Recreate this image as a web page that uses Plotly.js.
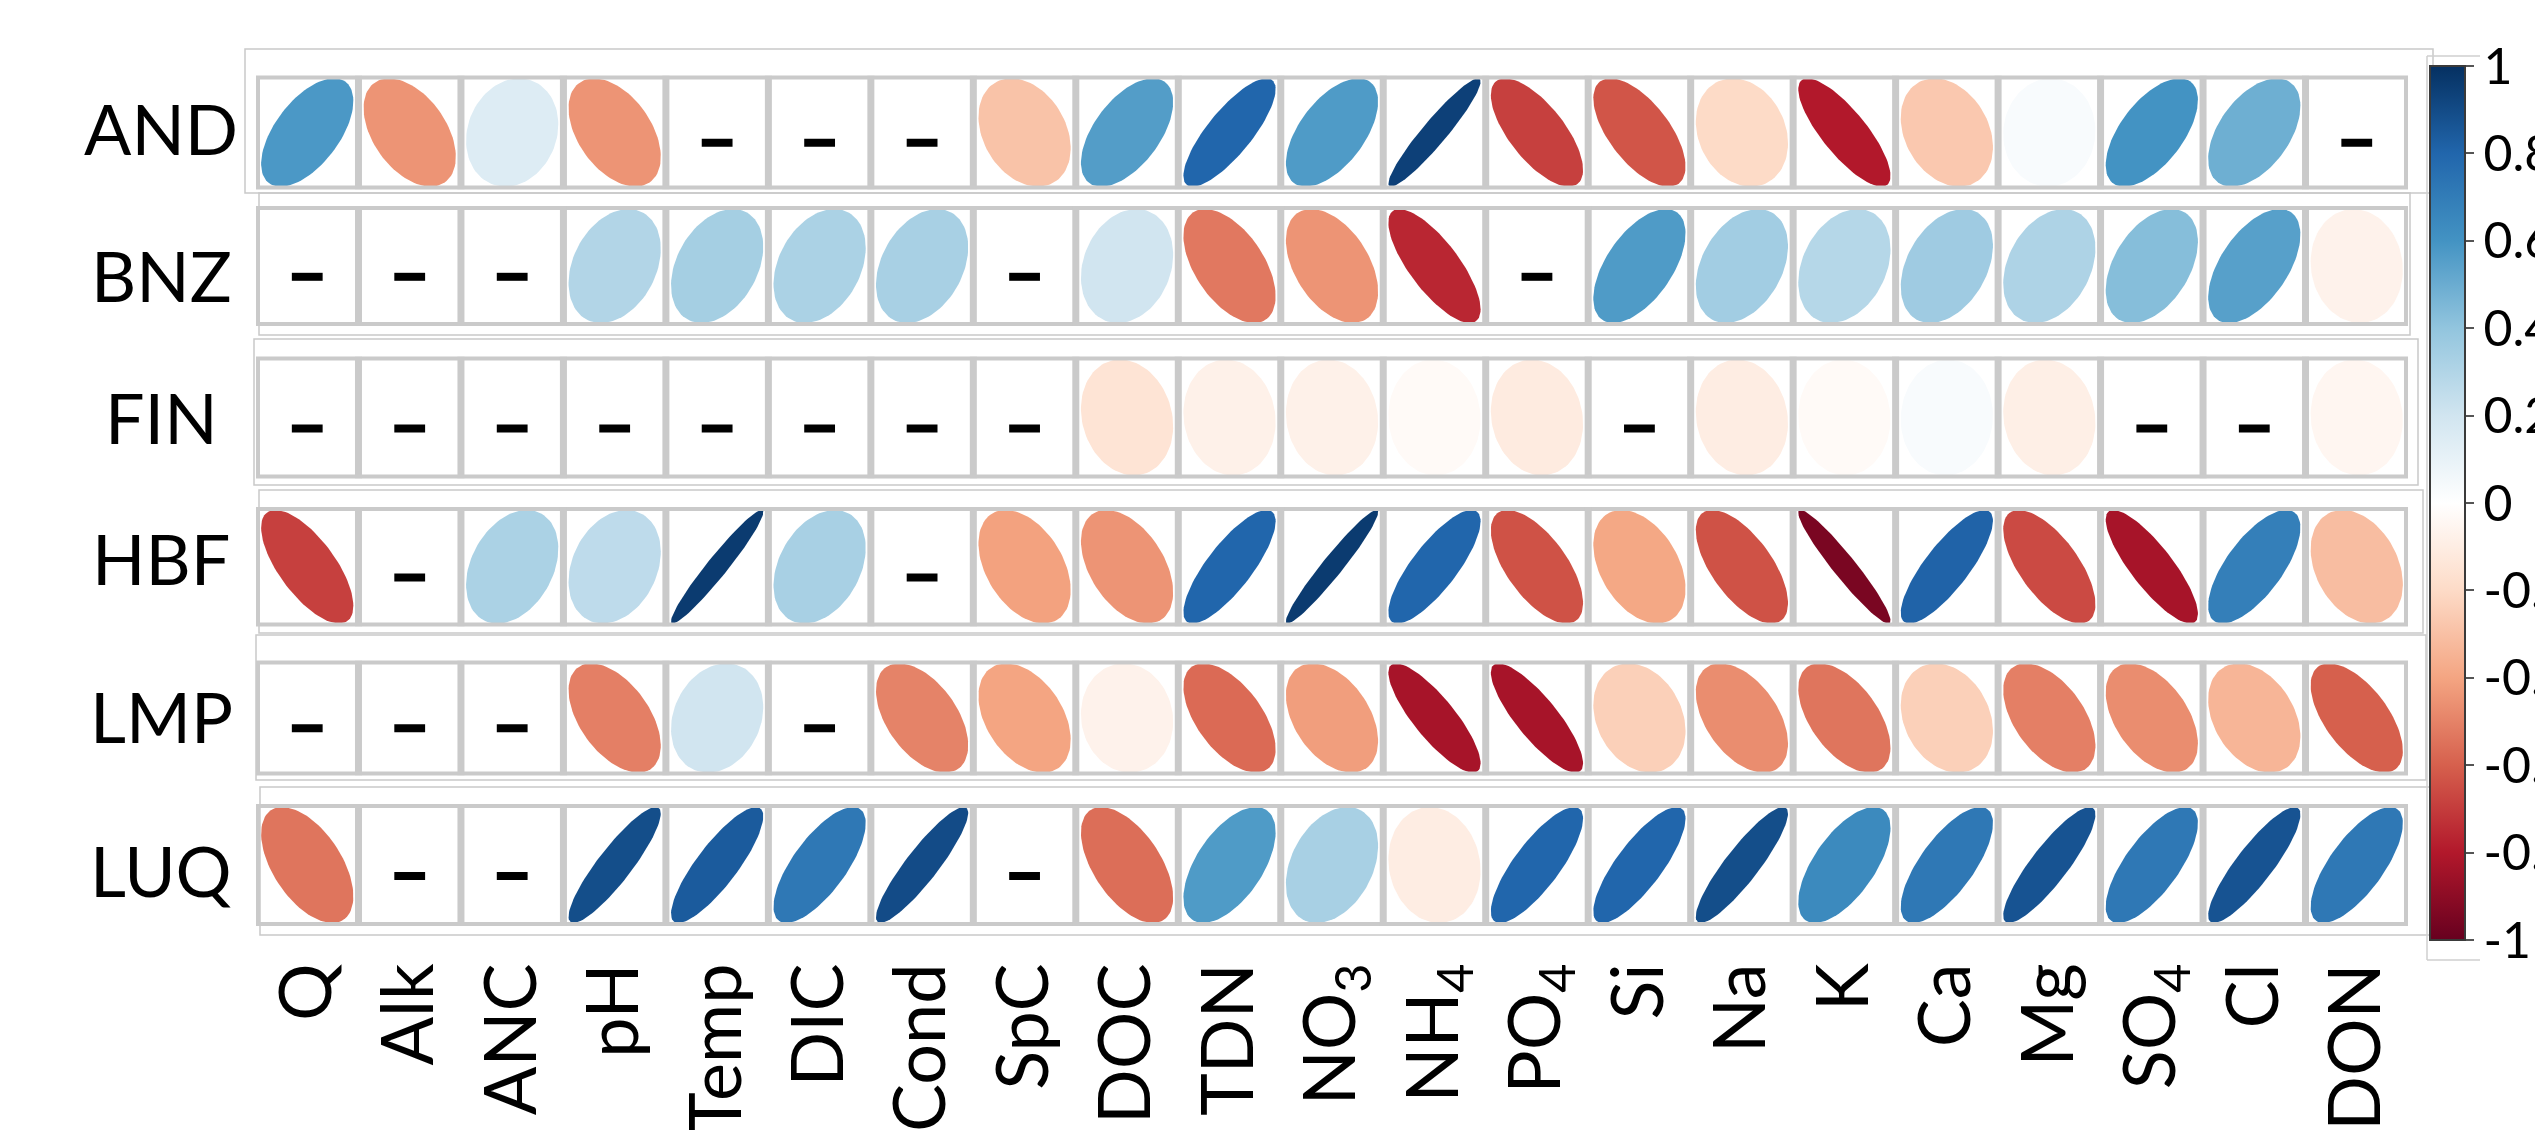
<!DOCTYPE html>
<html><head><meta charset="utf-8">
<script src="https://cdn.plot.ly/plotly-3.0.1.min.js"></script>
<style>html,body{margin:0;padding:0;background:#fff;} #chart{width:2535px;height:1130px;}</style>
</head><body><div id="chart"></div>
<script>
// ---------- data ----------
const variables = ['Q','Alk','ANC','pH','Temp','DIC','Cond','SpC','DOC','TDN','NO<sub>3</sub>','NH<sub>4</sub>','PO<sub>4</sub>','Si','Na','K','Ca','Mg','SO<sub>4</sub>','Cl','DON'];
const sites = ['AND','BNZ','FIN','HBF','LMP','LUQ'];
const AND = [0.58,-0.45,0.15,-0.45,null,null,null,-0.29,0.56,0.80,0.57,0.94,-0.69,-0.63,-0.20,-0.80,-0.27,0.03,0.60,0.49,null];
const BNZ = [null,null,null,0.30,0.34,0.32,0.33,null,0.20,-0.53,-0.45,-0.76,null,0.57,0.35,0.29,0.36,0.31,0.43,0.55,-0.07];
const FIN = [null,null,null,null,null,null,null,null,-0.15,-0.08,-0.08,-0.03,-0.11,null,-0.10,-0.03,0.03,-0.09,null,null,-0.05];
const HBF = [-0.69,null,0.32,0.26,0.96,0.33,null,-0.41,-0.45,0.80,0.96,0.80,-0.64,-0.39,-0.64,-0.95,0.81,-0.66,-0.83,0.69,-0.31];
const LMP = [null,null,null,-0.51,0.20,null,-0.50,-0.40,-0.07,-0.57,-0.42,-0.83,-0.83,-0.24,-0.47,-0.54,-0.24,-0.51,-0.47,-0.34,-0.60];
const LUQ = [-0.54,null,null,0.89,0.84,0.72,0.90,null,-0.56,0.57,0.33,-0.10,0.80,0.80,0.89,0.64,0.72,0.87,0.72,0.87,0.72];
const siteValues = [AND, BNZ, FIN, HBF, LMP, LUQ];
const colorbarTicks = [1,0.8,0.6,0.4,0.2,0,-0.2,-0.4,-0.6,-0.8,-1];

// ---------- style ----------
const W = 2535, H = 1130;
const px = v => v / W, py = v => 1 - v / H;
const FONT = 'Lato, "Open Sans", sans-serif';
const rdbu = ['#67001F','#B2182B','#D6604D','#F4A582','#FDDBC7','#FFFFFF','#D1E5F0','#92C5DE','#4393C3','#2166AC','#053061'];
const colorscale = rdbu.map((c,i) => [i/(rdbu.length-1), c]);
const gridX = [256, 2408];
const rowBox = [[75.5,189.5],[206,326],[356.5,478.5],[507,626.5],[660.5,775.5],[804,926]];
const frames = [[245,49,2433,193],[259,193,2410,335],[254,339,2418,485],[259,490,2423,633],[256,635,2426,780],[260,787,2430,935]];
const labelY = [128,275,417,558,716,870];
const ELL_X = 0.45, ELL_Y = 0.475;  // ellipse half-extent in cell units
const NA_DROP = 0.09;  // dash sits a little below cell centre
const GRID = '#cacaca';
const CBAR_X = 2430;

function hex2rgb(h){return [parseInt(h.slice(1,3),16),parseInt(h.slice(3,5),16),parseInt(h.slice(5,7),16)];}
function colorFor(r){
  const t = (r + 1) / 2 * (rdbu.length - 1);
  const i = Math.min(Math.floor(t), rdbu.length - 2), f = t - i;
  const a = hex2rgb(rdbu[i]), b = hex2rgb(rdbu[i+1]);
  const c = a.map((v,k) => Math.round(v + (b[k]-v)*f));
  return `rgb(${c[0]},${c[1]},${c[2]})`;
}

const traces = [];
const shapes = [];
const annotations = [];
const layout = {
  width: W, height: H, margin: {l:0, r:0, t:0, b:0, pad:0, autoexpand:false},
  paper_bgcolor: '#fff', plot_bgcolor: 'rgba(0,0,0,0)', showlegend: false,
  hovermode: false,
  xaxis: {
    domain: [px(gridX[0]), px(gridX[1])], range: [0.5, variables.length + 0.5],
    anchor: 'y6', tickmode: 'array', tickvals: variables.map((v,i) => i+1), ticktext: variables,
    tickangle: -90, ticks: '', showgrid: false, zeroline: false, showline: false, automargin: false,
    tickfont: {family: FONT, size: 72, color: '#000'}, ticklabelstandoff: 22, fixedrange: true
  },
  shapes, annotations
};

sites.forEach((site, s) => {
  const yname = s === 0 ? 'y' : 'y' + (s+1);
  const axname = s === 0 ? 'yaxis' : 'yaxis' + (s+1);
  layout[axname] = {domain: [py(rowBox[s][1]), py(rowBox[s][0])], range: [-0.5, 0.5], anchor: 'x',
    showticklabels: false, showgrid: false, zeroline: false, ticks: '', showline: false, fixedrange: true, automargin: false};
  const vals = siteValues[s];
  const naX = [];
  vals.forEach((r, c) => {
    const cx = c + 1;
    if (r === null) { naX.push(cx); return; }
    const d = Math.acos(r), xs = [], ys = [];
    for (let k = 0; k <= 98; k++) {
      const t = 2 * Math.PI * k / 98;
      xs.push(cx + ELL_X * Math.cos(t + d/2));
      ys.push(ELL_Y * Math.cos(t - d/2));
    }
    const col = colorFor(r);
    traces.push({type:'scatter', mode:'lines', x: xs, y: ys, xaxis:'x', yaxis: yname,
      fill:'toself', fillcolor: col, line:{width:0, color: col}, hoverinfo:'skip'});
  });
  if (naX.length) traces.push({type:'scatter', mode:'markers', x: naX, y: naX.map(() => -NA_DROP),
    xaxis:'x', yaxis: yname, hoverinfo:'skip',
    marker:{symbol:'line-ew', size:22, line:{width:8, color:'#000'}, color:'#000'}});
  // strip frame
  const f = frames[s];
  shapes.push({type:'rect', xref:'paper', yref:'paper', x0:px(f[0]), x1:px(f[2]), y0:py(f[3]), y1:py(f[1]),
    line:{color:'#c9c9c9', width:1.5}, layer:'below'});
  // grid
  shapes.push({type:'rect', xref:'x', yref:yname, x0:0.5, x1:variables.length+0.5, y0:-0.5, y1:0.5,
    line:{color:GRID, width:8}, layer:'above'});
  for (let k = 1; k < variables.length; k++) {
    shapes.push({type:'line', xref:'x', yref:yname, x0:k+0.5, x1:k+0.5, y0:-0.5, y1:0.5,
      line:{color:GRID, width:7}, layer:'above'});
  }
  annotations.push({xref:'paper', yref:'paper', x:px(161), y:py(labelY[s]), text: site, showarrow:false,
    xanchor:'center', yanchor:'middle', font:{family: FONT, size:70, color:'#000'}});
});

// colour bar frame
[[2427,56,2480,56],[2427,56,2427,960],[2427,960,2480,960]].forEach(l => shapes.push({type:'line', xref:'paper', yref:'paper',
  x0:px(l[0]), y0:py(l[1]), x1:px(l[2]), y1:py(l[3]), line:{color:'#cfcfcf', width:1.5}, layer:'below'}));

traces.push({type:'scatter', mode:'markers', x:[1,1], y:[0,0], xaxis:'x', yaxis:'y', hoverinfo:'skip',
  marker:{size:1, opacity:0, color:[-1,1], cmin:-1, cmax:1, colorscale: colorscale, showscale:true,
    colorbar:{x:px(CBAR_X), xref:'paper', xanchor:'left', xpad:0, y:py(66), yref:'paper', yanchor:'top', ypad:0,
      len:874, lenmode:'pixels', thickness:35, thicknessmode:'pixels',
      outlinewidth:2, outlinecolor:'#3a3a3a', borderwidth:0,
      ticks:'outside', ticklen:8, tickwidth:2, tickcolor:'#555',
      tickmode:'array', tickvals: colorbarTicks, ticktext: colorbarTicks.map(String),
      tickfont:{family: FONT, size:50, color:'#000'}}}});

Plotly.newPlot('chart', traces, layout, {staticPlot:true, displayModeBar:false});
</script></body></html>
